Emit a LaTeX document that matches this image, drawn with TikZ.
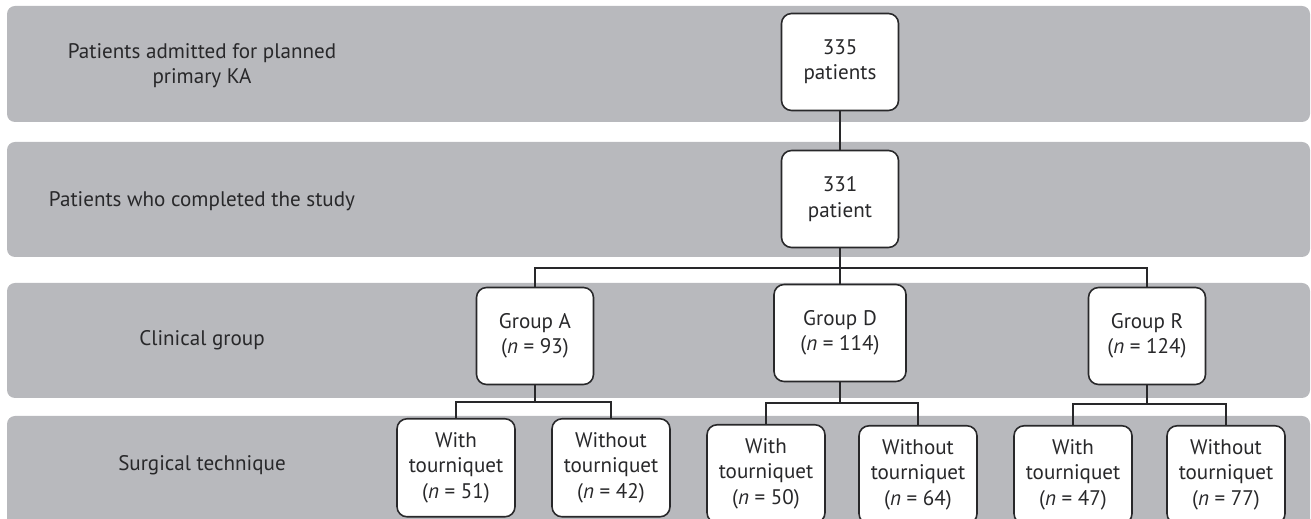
\documentclass[tikz,border=0pt]{standalone}
\usepackage{fontspec}
\setmainfont{PT Sans}
\definecolor{bandgray}{RGB}{184,185,189}
\definecolor{inkgray}{RGB}{40,40,42}
\begin{document}
\begin{tikzpicture}[x=0.02cm, y=-0.02cm,
    band/.style={fill=bandgray, rounded corners=0.16cm},
    rowlabel/.style={text=inkgray, align=center, font=\fontsize{12}{14.4}\selectfont},
    box/.style={draw=inkgray, fill=white, line width=0.9pt, rounded corners=0.2cm,
        text=inkgray, align=center, inner sep=0pt, minimum width=2.34cm, minimum height=1.94cm,
        font=\fontsize{12}{14.4}\selectfont},
    leaf/.style={box, anchor=north, minimum width=2.36cm, minimum height=1.96cm},
    link/.style={draw=inkgray, line width=0.8pt}]
    \clip (0,0) rectangle (1311,519);

    % background rows
    \fill[band] (7,6) rectangle (1310,122);
    \fill[band] (7,142) rectangle (1310,257);
    \fill[band] (7,283) rectangle (1310,398);
    \fill[band] (7,416) rectangle (1310,540);

    \node[rowlabel] (lblAdmit) at (202,66) {Patients admitted for planned\\primary KA};
    \node[rowlabel] (lblDone) at (202,201) {Patients who completed the study};
    \node[rowlabel] (lblGroup) at (202,340) {Clinical group};
    \node[rowlabel] (lblTech) at (202,465) {Surgical technique};

    % patient totals
    \node[box] (nAdmit) at (840,62) {335\\patients};
    \node[box] (nDone) at (840,199) {331\\patient};
    \draw[link] (nAdmit) -- (nDone);

    % clinical groups
    \node[box] (grpA) at (535,336) {Group A\\(\textit{n} = 93)};
    \node[box, minimum width=2.64cm] (grpD) at (840,333) {Group D\\(\textit{n} = 114)};
    \node[box] (grpR) at (1147,336) {Group R\\(\textit{n} = 124)};

    \coordinate (splitTop) at (840,268);
    \draw[link] (nDone) -- (splitTop);
    \draw[link] (grpA.north) |- (splitTop) -| (grpR.north);
    \draw[link] (splitTop) -- (grpD);

    % tourniquet subgroups
    \node[leaf] (aWith) at (456,418) {With\\tourniquet\\(\textit{n} = 51)};
    \node[leaf] (aWithout) at (611,418) {Without\\tourniquet\\(\textit{n} = 42)};
    \node[leaf] (dWith) at (766,424) {With\\tourniquet\\(\textit{n} = 50)};
    \node[leaf] (dWithout) at (918,425) {Without\\tourniquet\\(\textit{n} = 64)};
    \node[leaf] (rWith) at (1073,425) {With\\tourniquet\\(\textit{n} = 47)};
    \node[leaf] (rWithout) at (1226,425) {Without\\tourniquet\\(\textit{n} = 77)};

    \coordinate (splitA) at (535,402);
    \coordinate (splitD) at (840,403);
    \coordinate (splitR) at (1147,404);
    \draw[link] (grpA) -- (splitA);
    \draw[link] (grpD) -- (splitD);
    \draw[link] (grpR) -- (splitR);
    \draw[link] (aWith.north) |- (splitA) -| (aWithout.north);
    \draw[link] (dWith.north) |- (splitD) -| (dWithout.north);
    \draw[link] (rWith.north) |- (splitR) -| (rWithout.north);
\end{tikzpicture}
\end{document}
